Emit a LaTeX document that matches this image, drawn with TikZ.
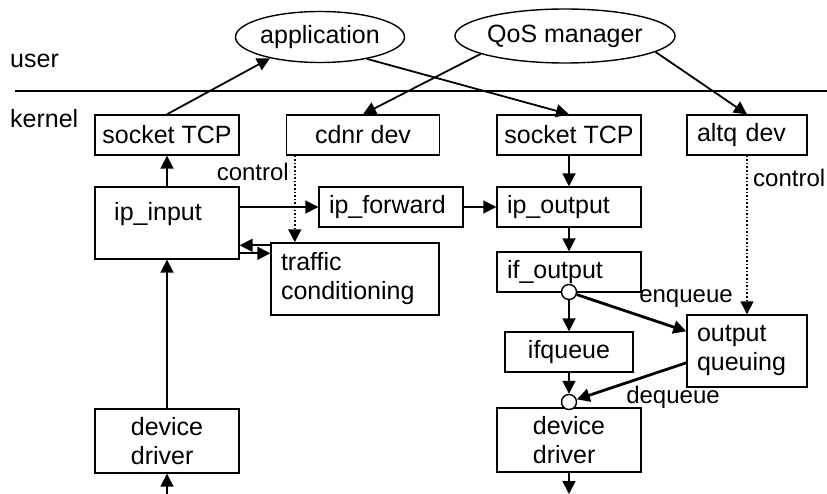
\documentclass[tikz,border=0pt]{standalone}
\usepackage{fontspec}
\setmainfont{Liberation Sans}
\usepackage{tikz}
\usetikzlibrary{arrows.meta,shapes,positioning,shapes.geometric}
\tikzset{
kern_b/.style = {rectangle, draw=black, line width=1.4pt, fill=white, minimum height=40pt, inner sep=0pt, align=left},% boite noyau
kern_l/.style = {kern_b, inner xsep=10pt},% boite noyau, texte a gauche
user_e/.style = {ellipse, draw=black, line width=1.4pt, inner sep=0pt},% processus utilisateur
join_c/.style = {circle, draw=black, fill=white, line width=1.4pt, minimum size=15pt, inner sep=0pt},% point de branchement
flow/.style = {-{Triangle[length=13pt,width=13pt]}, line width=1.8pt},% flux de paquets
flow_t/.style = {flow, line width=2.8pt},% flux vers la file
ctrl/.style = {-{Triangle[length=13pt,width=13pt]}, line width=1.6pt, dotted},% controle
lbl/.style = {inner sep=0pt},
lbl_s/.style = {lbl, font=\fontsize{24pt}{28pt}\selectfont}% etiquette de lien
}

\begin{document}
\begin{tikzpicture}[x=1pt, y=-1pt, font=\fontsize{25pt}{29pt}\selectfont]
	\useasboundingbox (0,0) rectangle (827,494);
	% espace utilisateur
	\node [user_e, minimum width=161pt, minimum height=51pt] (app) at (320,37) {application};
	\node [user_e, minimum width=194pt, minimum height=54pt] (qos) at (565,36) {QoS manager};
	\node [lbl, anchor=west] (usr) at (10,61) {user};
	\node [lbl, anchor=west] (krn) at (10,119) {kernel};
	\coordinate (sep_l) at (15,91);
	\coordinate (sep_r) at (827,91);
	\draw [line width=1.4pt] (sep_l) -- (sep_r);
	% noyau
	\node [kern_b, minimum width=144pt] (sockl) at (167,135) {socket TCP};
	\node [kern_b, minimum width=153pt] (cdnr) at (363,135) {cdnr dev};
	\node [kern_b, minimum width=144pt] (sockr) at (569,135) {socket TCP};
	\node [kern_l, text width=100pt] (altq) at (747,135) {altq dev};
	\node [kern_b, minimum width=144pt, minimum height=72pt] (ipin) at (167,223) {};
	\node [lbl] (ipin_t) at (158,214) {ip\_input};
	\node [kern_l, text width=124pt] (ipf) at (391,207) {ip\_forward};
	\node [kern_l, text width=124pt] (ipo) at (569,207) {ip\_output};
	\node [kern_l, text width=148pt, minimum height=72pt] (tc) at (355,279) {traffic\\conditioning};
	\node [kern_l, text width=124pt] (ifo) at (569,272) {if\_output};
	\node [kern_b, minimum width=128pt] (ifq) at (569,352) {ifqueue};
	\node [kern_l, text width=100pt, minimum height=72pt] (oq) at (747,351) {output\\queuing};
	\node [kern_b, minimum width=144pt, minimum height=64pt] (ddl) at (167,441) {device\\driver};
	\node [kern_b, minimum width=144pt, minimum height=64pt] (ddr) at (569,440) {device\\driver};
	\node [join_c] (c_enq) at (569,292) {};
	\node [join_c] (c_deq) at (569,402) {};
	\coordinate (in_bot) at (167,494);
	\coordinate (out_bot) at (569,494);
	% liens
	\draw [flow] (sockl.north) -- (app.203);
	\draw [flow] (app.-25) -- (sockr.north);
	\draw [flow] (qos.192) -- (cdnr.north);
	\draw [flow] (qos.-10) -- (altq.north);
	\draw [flow] (ipin) -- (sockl);
	\draw [flow] (ipin.east |- ipf.west) -- (ipf.west);
	\draw [flow] (ipf) -- (ipo);
	\draw [flow] (sockr) -- (ipo);
	\draw [flow] (ipo) -- (ifo);
	\draw [flow] (c_enq) -- (ifq);
	\draw [flow] (ifq) -- (c_deq);
	\draw [flow_t] (c_enq) -- (oq.162);
	\draw [flow_t] (oq.191) -- (c_deq);
	\draw [flow] (ddl) -- (ipin);
	\draw [flow] (in_bot) -- (ddl);
	\draw [flow] (ddr) -- (out_bot);
	\coordinate (tc_a) at ([yshift=-3pt]tc.north west);
	\coordinate (tc_b) at ([yshift=-11pt]tc.north west);
	\draw [flow] (tc_a) -- (tc_a -| ipin.east);
	\draw [flow] (tc_b -| ipin.east) -- (tc_b);
	% controle
	\coordinate (cd_c) at ([xshift=9pt]cdnr.south west);
	\draw [ctrl] (cd_c) -- (cd_c |- tc.north);
	\draw [ctrl] (altq) -- (oq);
	\node [lbl_s, anchor=east] (ctl_l) at (289,172) {control};
	\node [lbl_s, anchor=west] (ctl_r) at (753,178) {control};
	\node [lbl_s] (enq) at (686,299) {enqueue};
	\node [lbl_s] (deq) at (673,397) {dequeue};
\end{tikzpicture}
\end{document}
